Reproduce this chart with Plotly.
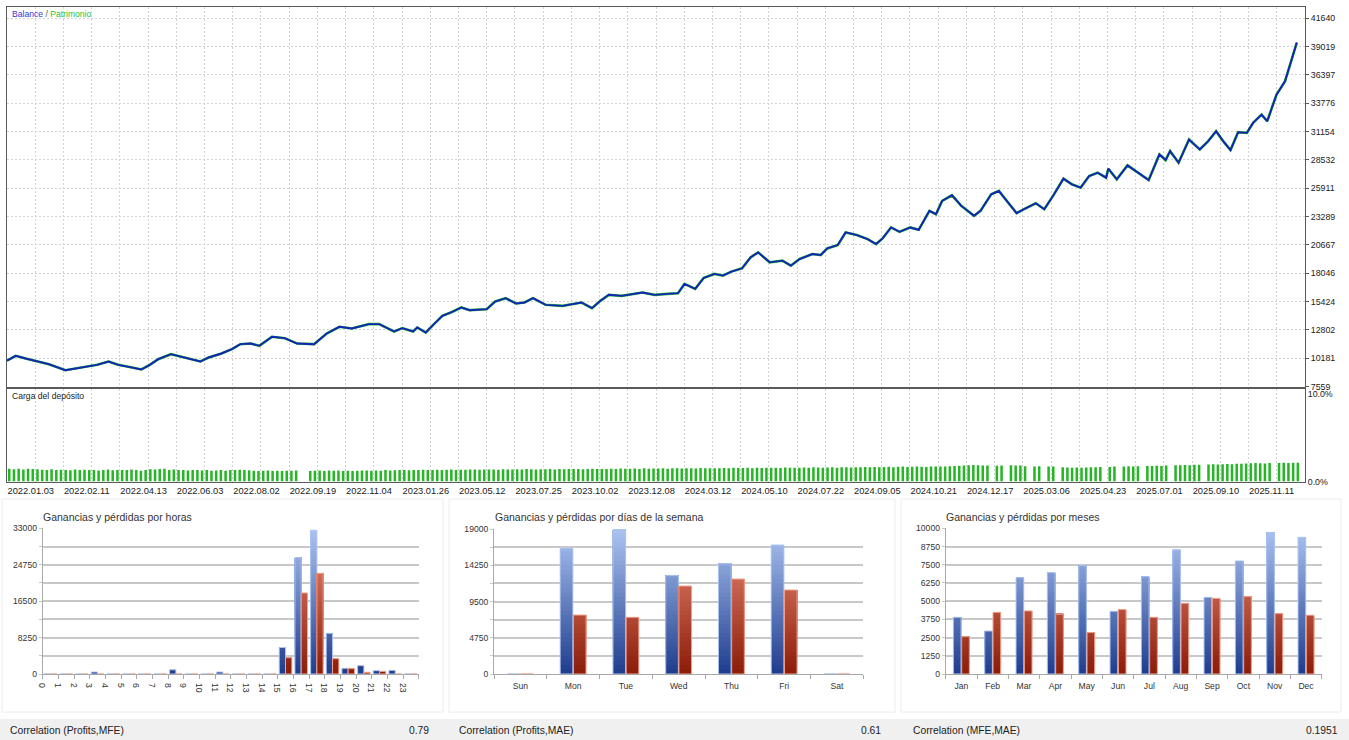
''' MT5 tester report: balance curve, deposit load and profit/loss histograms '''

import plotly.graph_objects as go

W, H = 1349, 740

# Balance curve, position measured in grid cells along the test (46 cells)
BAL_POS = [0.00, 0.31, 0.66, 1.00, 1.48, 2.07, 2.45, 2.82, 3.19, 3.60, 3.94, 4.31, 4.76, 5.06, 5.36,
           5.81, 6.25, 6.85, 7.15, 7.60, 7.97, 8.27, 8.64, 8.94, 9.39, 9.84, 10.28, 10.88, 11.33,
           11.78, 12.22, 12.82, 13.19, 13.72, 14.01, 14.39, 14.54, 14.84, 15.13, 15.43, 15.73,
           16.10, 16.40, 17.00, 17.30, 17.67, 18.04, 18.34, 18.64, 19.09, 19.69, 20.36, 20.73,
           21.03, 21.33, 21.78, 22.52, 22.95, 23.41, 23.78, 24.01, 24.39, 24.69, 25.07, 25.37,
           25.67, 26.05, 26.35, 26.62, 27.03, 27.48, 27.78, 28.09, 28.54, 28.84, 29.07, 29.44,
           29.72, 30.12, 30.50, 30.80, 31.03, 31.33, 31.63, 32.01, 32.31, 32.69, 32.92, 33.14,
           33.49, 33.82, 34.27, 34.50, 34.88, 35.15, 35.48, 35.78, 36.08, 36.46, 36.76, 37.07,
           37.44, 37.74, 38.05, 38.35, 38.65, 38.95, 39.03, 39.33, 39.71, 40.08, 40.46, 40.84,
           41.06, 41.22, 41.52, 41.89, 42.27, 42.57, 42.85, 43.10, 43.36, 43.63, 43.94, 44.16,
           44.46, 44.66, 44.99, 45.29, 45.52, 45.71]
BALANCE = [9950, 10397, 10150, 9934, 9626, 9071, 9256, 9379, 9564, 9873, 9564, 9379, 9132, 9564, 10088,
           10551, 10243, 9873, 10243, 10613, 11014, 11476, 11538, 11322, 12155, 12031, 11538, 11476, 12463,
           13080, 12926, 13327, 13327, 12648, 12957, 12648, 13018, 12556, 13327, 14098, 14406,
           14869, 14622, 14714, 15424, 15732, 15239, 15331, 15732, 15115, 15023, 15331, 14807,
           15485, 16041, 15948, 16256, 16038, 16131, 16192, 17052, 16591, 17605, 17974, 17820,
           18189, 18496, 19510, 19971, 19049, 19203, 18742, 19356, 19817, 19725, 20339, 20646,
           21814, 21568, 21200, 20739, 21261, 22275, 21875, 22275, 22060, 23811, 23503, 24733,
           25254, 24271, 23350, 23811, 25346, 25654, 24579, 23595, 24026, 24517, 23964, 25193,
           26790, 26268, 25961, 27036, 27343, 26882, 27712, 26729, 28019, 27343, 26667, 29033,
           28511, 29340, 28265, 30415, 29494, 30262, 31184, 30262, 29432, 31091, 31030, 31952,
           32719, 32105, 34563, 35792, 37788, 39386]

Y_TICKS = [7559, 10181, 12802, 15424, 18046, 20667, 23289, 25911, 28532, 31154, 33776, 36397, 39019, 41640]
DATES = ['2022.01.03', '2022.02.11', '2022.04.13', '2022.06.03', '2022.08.02', '2022.09.19',
         '2022.11.04', '2023.01.26', '2023.05.12', '2023.07.25', '2023.10.02', '2023.12.08',
         '2024.03.12', '2024.05.10', '2024.07.22', '2024.09.05', '2024.10.21', '2024.12.17',
         '2025.03.06', '2025.04.23', '2025.07.01', '2025.09.10', '2025.11.11']

# Deposit load in %, six trades per grid cell (0 = no trade)
LOAD = [1.45, 1.40, 1.45, 1.38, 1.45, 1.42, 1.40, 1.35, 1.30, 1.40, 1.32, 1.35,
        1.30, 1.28, 1.36, 1.30, 1.34, 1.30, 1.30, 1.26, 1.32, 1.36, 1.28, 1.30,
        1.32, 1.30, 1.36, 1.30, 1.22, 1.30, 1.40, 1.36, 1.42, 1.45, 1.30, 1.36,
        1.30, 1.32, 1.26, 1.30, 1.30, 1.25, 1.30, 1.22, 1.26, 1.30, 1.24, 1.30,
        1.30, 1.34, 1.30, 1.28, 1.24, 1.20, 1.22, 1.26, 1.20, 1.24, 1.20, 1.22,
        1.22, 1.25, 0, 0, 1.20, 1.24, 1.25, 1.20, 1.26, 1.22, 1.25, 1.20,
        1.24, 1.20, 1.22, 1.26, 1.25, 1.22, 1.26, 1.24, 1.30, 1.26, 1.28, 1.30,
        1.30, 1.28, 1.32, 1.30, 1.34, 1.32, 1.32, 1.35, 1.30, 1.34, 1.36, 1.32,
        1.35, 1.33, 1.36, 1.38, 1.34, 1.36, 1.36, 1.38, 1.34, 1.40, 1.38, 1.36,
        1.40, 1.38, 1.42, 1.40, 1.36, 1.40, 1.40, 1.42, 1.38, 1.44, 1.40, 1.42,
        1.42, 1.44, 1.40, 1.42, 1.46, 1.44, 1.44, 1.42, 1.46, 1.44, 1.48, 1.45,
        1.46, 1.48, 1.44, 1.50, 1.46, 1.48, 1.48, 1.50, 1.46, 1.50, 1.52, 1.48,
        1.50, 1.52, 1.48, 1.54, 1.50, 1.52, 1.52, 1.50, 1.54, 1.52, 1.56, 1.54,
        1.54, 1.56, 1.52, 1.58, 1.55, 1.56, 1.56, 1.58, 1.55, 1.60, 1.58, 1.56,
        1.58, 1.60, 1.56, 1.62, 1.60, 1.58, 1.60, 1.62, 1.58, 1.64, 1.62, 1.60,
        1.62, 1.64, 1.66, 1.62, 1.65, 1.64, 1.66, 1.68, 1.64, 1.68, 1.70, 1.66,
        1.68, 1.70, 1.68, 1.66, 1.70, 1.72, 1.70, 1.72, 1.74, 1.76, 1.80, 1.82,
        1.85, 1.88, 1.86, 1.84, 1.82, 0, 1.80, 1.82, 0, 1.86, 1.82, 1.84,
        1.74, 0, 1.72, 1.74, 0, 1.70, 1.70, 0, 1.62, 1.60, 1.58, 1.60,
        1.58, 1.60, 1.62, 1.64, 1.66, 0, 1.66, 1.70, 0, 1.72, 1.74, 1.72,
        1.75, 0, 1.76, 1.78, 1.80, 1.78, 1.82, 0, 1.86, 1.86, 1.88, 1.86,
        1.90, 1.92, 0, 1.94, 1.96, 1.94, 1.96, 2.00, 1.98, 2.02, 2.04, 2.06,
        2.08, 2.10, 2.08, 2.06, 2.10, 0, 2.12, 2.14, 2.12, 2.14, 2.14]

HOUR_LABELS = [str(h) for h in range(24)]
HOUR_PROFIT = [0, 0, 0, 450, 0, 0, 0, 0, 950, 0, 0, 450, 0, 0, 0, 6000, 26350, 32540, 9210, 1280, 1890, 755, 830, 0]
HOUR_LOSS = [0, 0, 0, 0, 0, 0, 0, 0, 0, 0, 0, 0, 0, 0, 0, 3700, 18350, 22800, 3470, 1200, 380, 600, 0, 0]

DAYS = ['Sun', 'Mon', 'Tue', 'Wed', 'Thu', 'Fri', 'Sat']
DAY_PROFIT = [0, 16470, 18900, 12890, 14460, 16900, 0]
DAY_LOSS = [0, 7730, 7430, 11530, 12450, 11010, 0]

MONTHS = ['Jan', 'Feb', 'Mar', 'Apr', 'May', 'Jun', 'Jul', 'Aug', 'Sep', 'Oct', 'Nov', 'Dec']
MONTH_PROFIT = [3890, 2950, 6610, 6960, 7440, 4300, 6680, 8510, 5260, 7760, 9700, 9380]
MONTH_LOSS = [2560, 4230, 4330, 4100, 2840, 4420, 3890, 4850, 5190, 5310, 4140, 4030]

CORR_NAMES = ['Correlation (Profits,MFE)', 'Correlation (Profits,MAE)', 'Correlation (MFE,MAE)']
CORR_VALUES = ['0.79', '0.61', '0.1951']

FONT = 'Liberation Sans, Arial, sans-serif'
GRID = '#d2d2d2'
FRAME = '#5a5a5a'
BAR_GRID = '#c8c8c8'
BLUE_LO, BLUE_HI = (30, 60, 140), (172, 196, 242)
RED_LO, RED_HI = (138, 28, 8), (238, 142, 122)


def px(x):
    ''' page pixel x -> paper coordinate '''
    return x / W


def py(y):
    ''' page pixel y (from top) -> paper coordinate '''
    return 1 - y / H


def mix(c0, c1, t):
    return 'rgb(%d,%d,%d)' % tuple(round(a + (b - a) * t) for a, b in zip(c0, c1))


def gradient_bars(fig, xs, vals, ymax, off, width, c_lo, c_hi, edge, n):
    ''' MT5 style bars: colour fades from dark at zero to light at axis top '''
    bands = 32
    for j in range(bands):
        lo = ymax * j / bands
        fig.add_trace(go.Bar(
            x=xs, y=[max(v - lo, 0) for v in vals], base=lo, width=width, offset=off,
            marker=dict(color=mix(c_lo, c_hi, (j + 0.5) / bands), line=dict(width=0)),
            xaxis='x' + n, yaxis='y' + n, hoverinfo='skip'))
    fig.add_trace(go.Bar(
        x=xs, y=vals, width=width, offset=off,
        marker=dict(color='rgba(0,0,0,0)', line=dict(color=edge, width=1)),
        xaxis='x' + n, yaxis='y' + n, hoverinfo='skip'))


fig = go.Figure()

# Balance / equity
fig.add_trace(go.Scatter(x=BAL_POS, y=BALANCE, mode='lines', line=dict(color='#20c020', width=2.6),
                         xaxis='x', yaxis='y', hoverinfo='skip'))
fig.add_trace(go.Scatter(x=BAL_POS, y=BALANCE, mode='lines', line=dict(color='#1424b8', width=1.9),
                         xaxis='x', yaxis='y', hoverinfo='skip'))

# Deposit load
load_pos = [0.08 + i / 6 for i in range(len(LOAD))]
fig.add_trace(go.Bar(x=load_pos, y=LOAD, width=0.09, marker=dict(color='#27b527', line=dict(width=0)),
                     xaxis='x2', yaxis='y2', hoverinfo='skip'))

# Histograms
hx = [i + 0.5 for i in range(24)]
gradient_bars(fig, hx, HOUR_PROFIT, 33000, -0.40, 0.40, BLUE_LO, BLUE_HI, '#aec4f2', '3')
gradient_bars(fig, hx, HOUR_LOSS, 33000, 0.0, 0.40, RED_LO, RED_HI, '#f2a592', '3')
dx = [i + 0.5 for i in range(7)]
gradient_bars(fig, dx, DAY_PROFIT, 19000, -0.245, 0.24, BLUE_LO, BLUE_HI, '#aec4f2', '4')
gradient_bars(fig, dx, DAY_LOSS, 19000, 0.005, 0.24, RED_LO, RED_HI, '#f2a592', '4')
mx = [i + 0.5 for i in range(12)]
gradient_bars(fig, mx, MONTH_PROFIT, 10000, -0.255, 0.245, BLUE_LO, BLUE_HI, '#aec4f2', '5')
gradient_bars(fig, mx, MONTH_LOSS, 10000, 0.01, 0.245, RED_LO, RED_HI, '#f2a592', '5')

grid_x = dict(range=[0, 46], tickmode='array', tickvals=list(range(0, 46, 2)), showgrid=True,
              gridcolor=GRID, griddash='2px,2px', gridwidth=1, zeroline=False, ticks='',
              minor=dict(tickmode='linear', tick0=0, dtick=1, showgrid=True, gridcolor=GRID,
                         griddash='2px,2px', gridwidth=1),
              showline=True, mirror=True, linecolor=FRAME, linewidth=1, automargin=False,
              domain=[px(7), px(1305)])


def hist_y(top, step, y_top):
    vals = [i * step for i in range(int(round(top / step)) + 1)]
    return dict(domain=[py(674), py(y_top)], range=[0, top], tickmode='array',
                tickvals=vals, ticktext=[str(v) for v in vals],
                showgrid=True, gridcolor=BAR_GRID, gridwidth=1.6, zeroline=False,
                ticks='outside', ticklen=3, tickcolor=BAR_GRID, automargin=False,
                showline=True, linecolor='#a8a8a8', linewidth=1,
                tickfont=dict(size=8.6, color='#333'))


fig.update_layout(
    template='none',
    width=W, height=H, margin=dict(l=0, r=0, t=0, b=0, pad=0), autosize=False,
    paper_bgcolor='white', plot_bgcolor='white', barmode='overlay', showlegend=False,
    font=dict(family=FONT, size=9, color='#222'),
    xaxis=dict(grid_x, anchor='y', showticklabels=False),
    yaxis=dict(domain=[py(386.5), py(7)], range=[7559, 42675], side='right', anchor='x',
               tickmode='array', tickvals=Y_TICKS, ticktext=[str(v) for v in Y_TICKS],
               showgrid=True, gridcolor=GRID, griddash='2px,2px', zeroline=False,
               ticks='outside', ticklen=3, tickcolor=FRAME, automargin=False,
               showline=True, mirror=True, linecolor=FRAME, tickfont=dict(size=8.8, color='#222')),
    xaxis2=dict(grid_x, anchor='y2', ticktext=DATES, ticklabelposition='outside right',
                tickfont=dict(size=9.3, color='#1a1a1a')),
    yaxis2=dict(domain=[py(481.5), py(389)], range=[0, 10.571], side='right', anchor='x2',
                tickmode='array', tickvals=[0, 10], ticktext=['0.0%', '10.0%'], showgrid=False,
                zeroline=False, ticks='', showline=True, mirror=True, linecolor=FRAME,
                automargin=False, tickfont=dict(size=8.8, color='#222')),
    xaxis3=dict(domain=[px(42.7), px(418.7)], range=[0, 24], anchor='y3', tickmode='array',
                tickvals=list(range(25)), ticktext=HOUR_LABELS + [''], ticklabelposition='outside right',
                ticks='outside', ticklen=4, tickcolor='#a8a8a8', showgrid=False, zeroline=False,
                showline=True, linecolor='#a8a8a8', automargin=False, ticklabelstandoff=2,
                tickfont=dict(size=8.6, color='#333')),
    yaxis3=dict(hist_y(33000, 8250, 528.3), anchor='x3',
                minor=dict(tickmode='linear', tick0=0, dtick=4125, showgrid=True,
                           gridcolor=BAR_GRID, gridwidth=1.6, ticks='outside', ticklen=3,
                           tickcolor=BAR_GRID)),
    xaxis4=dict(domain=[px(494), px(863.3)], range=[0, 7], anchor='y4', tickmode='array',
                tickvals=dx, ticktext=DAYS, ticks='', showgrid=False, zeroline=False,
                showline=True, linecolor='#a8a8a8', automargin=False, ticklabelstandoff=4,
                tickfont=dict(size=8.6, color='#333'),
                minor=dict(tickmode='linear', tick0=0, dtick=1, ticks='outside', ticklen=4,
                           tickcolor='#a8a8a8')),
    yaxis4=dict(hist_y(19000, 4750, 529), anchor='x4',
                minor=dict(tickmode='linear', tick0=0, dtick=2375, showgrid=True,
                           gridcolor=BAR_GRID, gridwidth=1.6, ticks='outside', ticklen=3,
                           tickcolor=BAR_GRID)),
    xaxis5=dict(domain=[px(945.7), px(1321.7)], range=[0, 12], anchor='y5', tickmode='array',
                tickvals=mx, ticktext=MONTHS, ticks='', showgrid=False, zeroline=False,
                showline=True, linecolor='#a8a8a8', automargin=False, ticklabelstandoff=4,
                tickfont=dict(size=8.6, color='#333'),
                minor=dict(tickmode='linear', tick0=0, dtick=1, ticks='outside', ticklen=4,
                           tickcolor='#a8a8a8')),
    yaxis5=dict(hist_y(10000, 1250, 528.3), anchor='x5'),
)

# correlation strip and light frames of the three histograms
shapes = [dict(type='rect', xref='paper', yref='paper', x0=0, x1=1, y0=py(740), y1=py(719),
               fillcolor='#f0f0f0', line=dict(width=0), layer='below')]
for x0, x1 in [(2, 443), (449, 895), (901, 1341)]:
    shapes.append(dict(type='rect', xref='paper', yref='paper', x0=px(x0), x1=px(x1),
                       y0=py(712), y1=py(499), line=dict(color='#ececec', width=1), layer='below'))
fig.update_layout(shapes=shapes)

notes = [
    dict(x=px(10), y=py(14.5), xanchor='left', yanchor='middle', font=dict(size=8.6),
         text="<span style='color:#3636d0'>Balance</span><span style='color:#555'> / </span>"
              "<span style='color:#2cbf2c'>Patrimonio</span>"),
    dict(x=px(10), y=py(395.5), xanchor='left', yanchor='middle', font=dict(size=8.6, color='#222'),
         text='Carga del depósito'),
]
for x, t in [(40.7, 'Ganancias y pérdidas por horas'), (492.7, 'Ganancias y pérdidas por días de la semana'),
             (944, 'Ganancias y pérdidas por meses')]:
    notes.append(dict(x=px(x), y=py(516.7), xanchor='left', yanchor='middle', text=t,
                      font=dict(size=10.5, color='#333')))
for name, val, xl, xr in zip(CORR_NAMES, CORR_VALUES, [8, 457, 911], [431, 883, 1340]):
    notes.append(dict(x=px(xl), y=py(730), xanchor='left', yanchor='middle', text=name,
                      font=dict(size=10.3, color='#222')))
    notes.append(dict(x=px(xr), y=py(730), xanchor='right', yanchor='middle', text=val,
                      font=dict(size=10.3, color='#222')))
for a in notes:
    a.update(xref='paper', yref='paper', showarrow=False)
fig.update_layout(annotations=notes)

# the page body has a default 8px margin; drop it so the figure sits at the window origin
fig.write_html("out.html", config={'displayModeBar': False},
               post_script="document.body.style.margin='0';")
